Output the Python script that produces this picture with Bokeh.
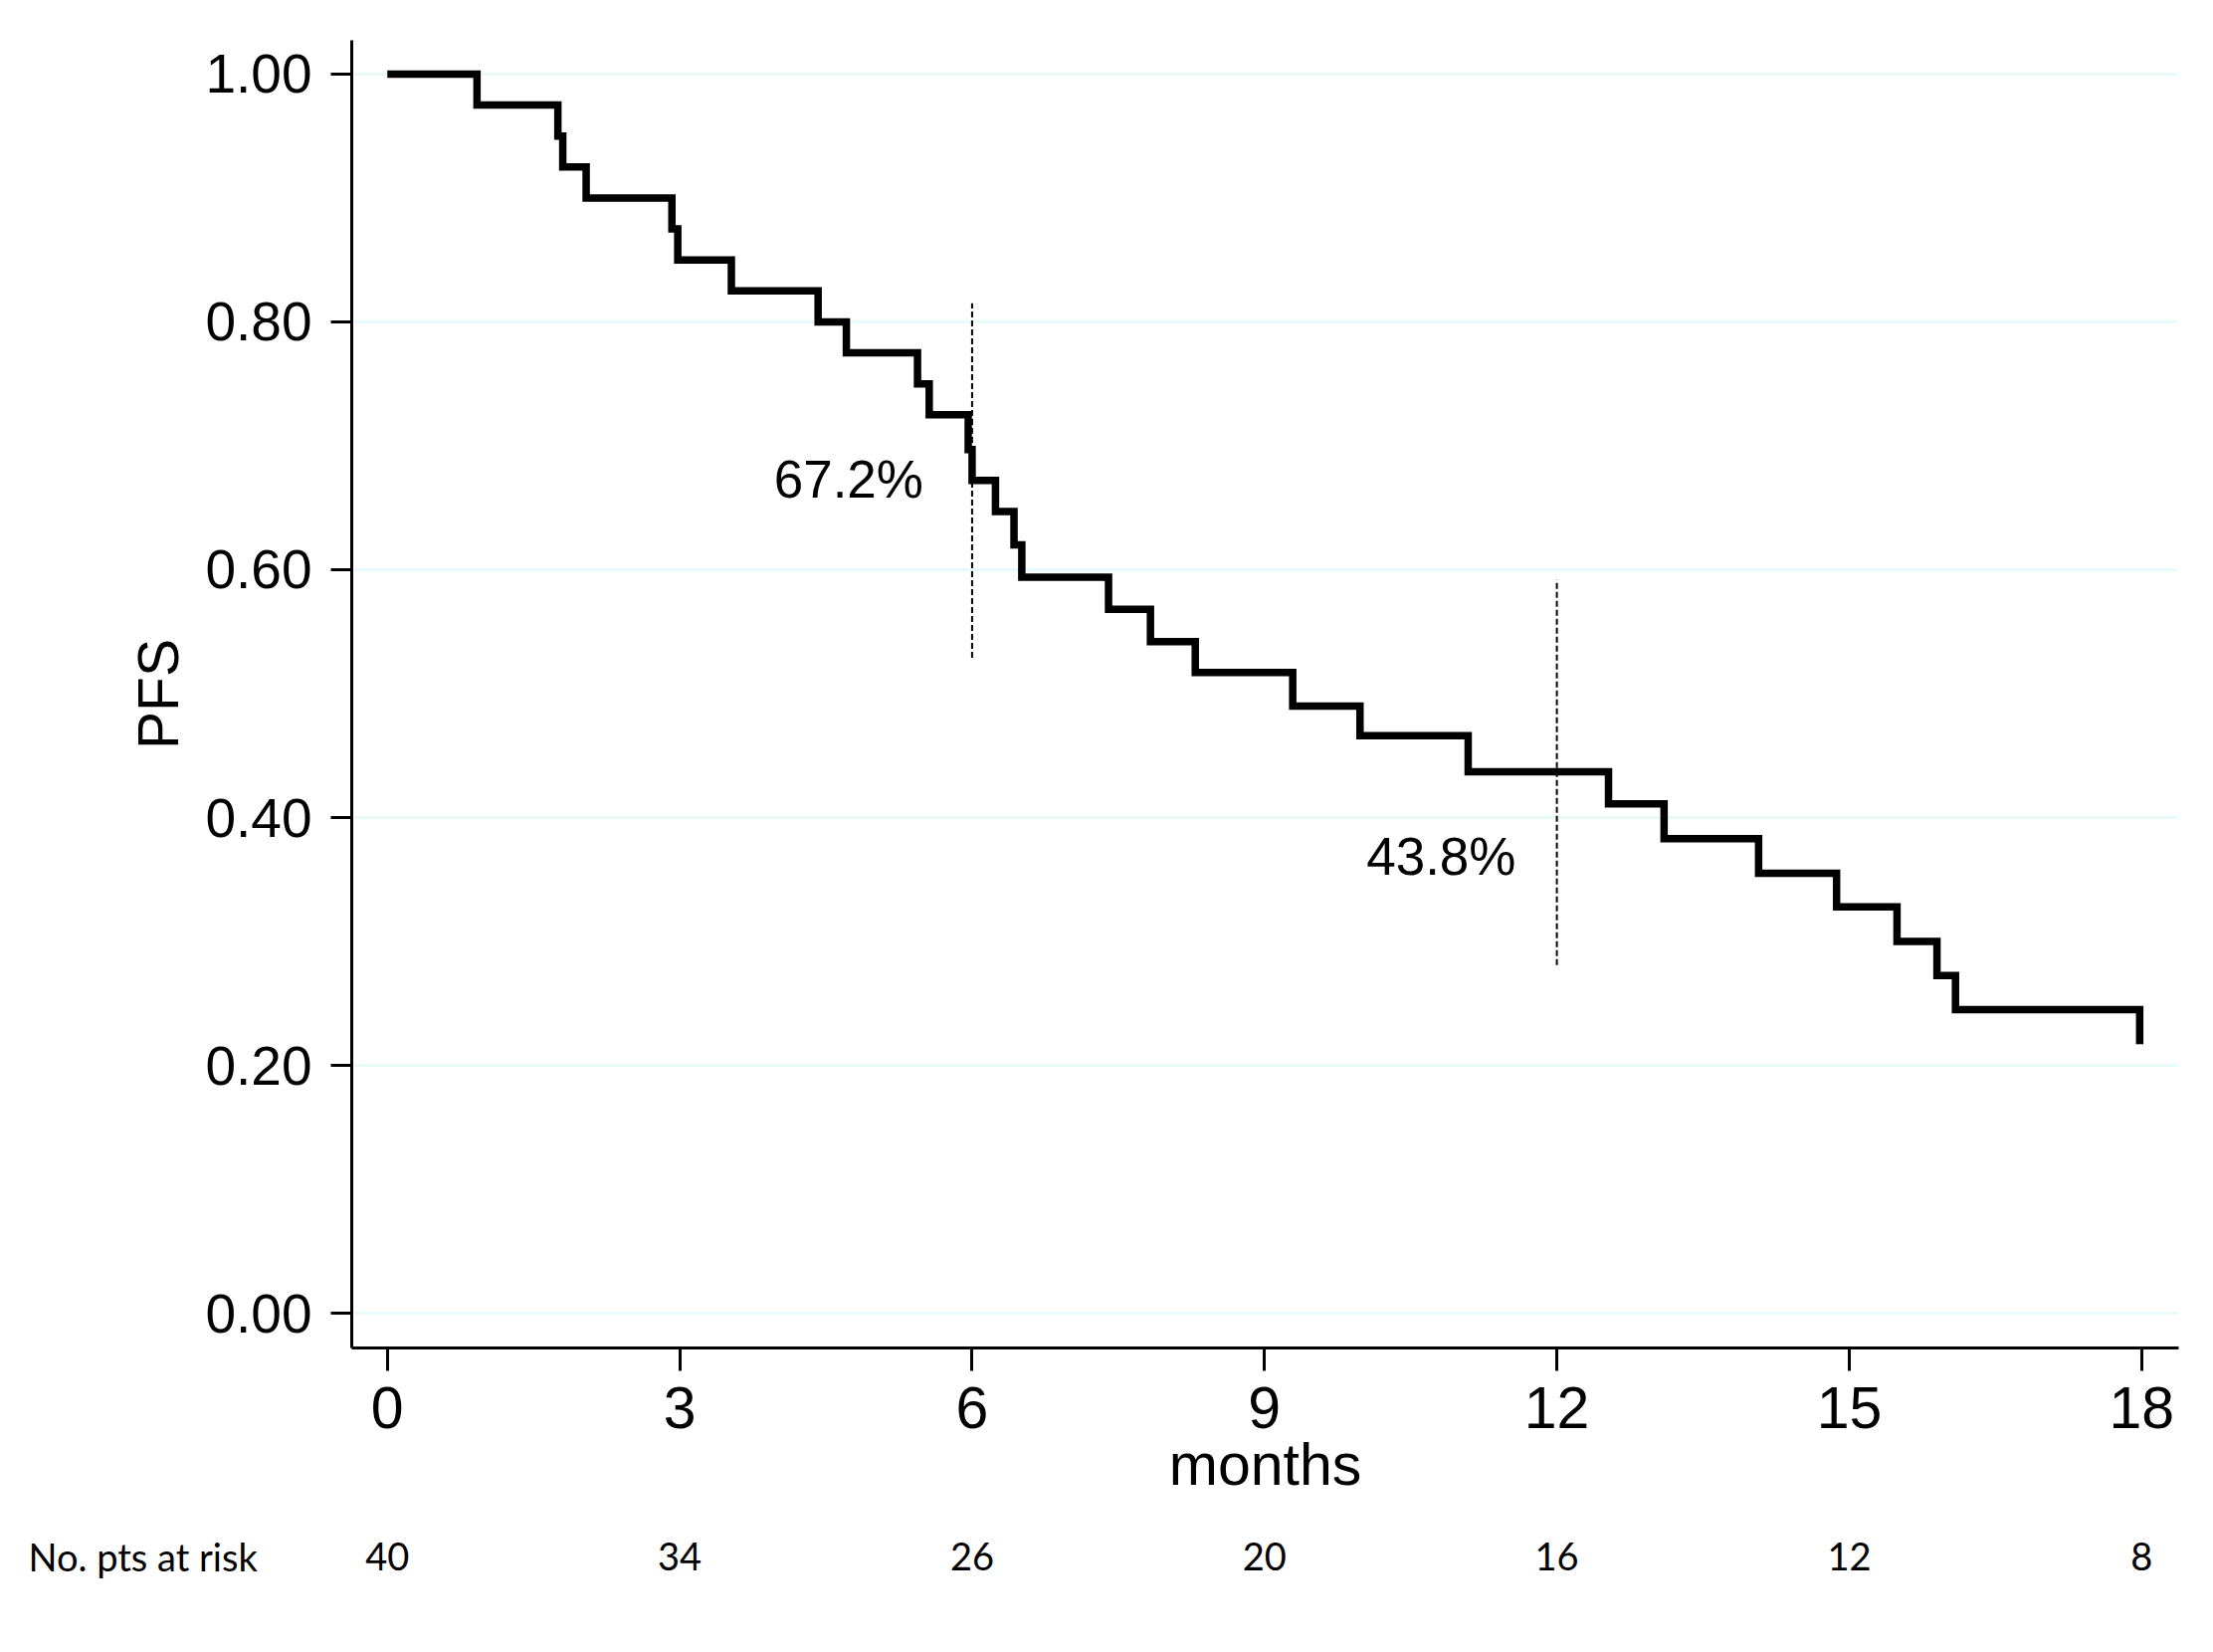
from bokeh.plotting import figure
from bokeh.layouts import column
from bokeh.models import Range1d, FixedTicker, NumeralTickFormatter
from bokeh.core.properties import value
from bokeh.embed import file_html
from bokeh.resources import INLINE

# ---- data ----
km_months = [0, 0.92, 1.75, 1.80, 2.04, 2.92, 2.98, 3.53, 4.42, 4.71, 5.44, 5.56,
             5.96, 6.00, 6.24, 6.43, 6.51, 7.40, 7.83, 8.29, 9.29, 9.98, 11.09,
             12.53, 13.10, 14.07, 14.87, 15.49, 15.90, 16.09, 17.98]
km_pfs = [1.00, 0.975, 0.95, 0.925, 0.90, 0.875, 0.85, 0.825, 0.80, 0.775, 0.75, 0.725,
          0.697, 0.672, 0.647, 0.62, 0.594, 0.568, 0.542, 0.517, 0.490, 0.466, 0.437,
          0.411, 0.383, 0.355, 0.328, 0.300, 0.2725, 0.245, 0.217]

marker_months = [6, 12]
marker_lo = [0.529, 0.281]
marker_hi = [0.815, 0.592]
marker_text = ["67.2%", "43.8%"]
marker_text_x = [5.50, 11.58]
marker_text_y = [0.673, 0.369]

x_ticks = [0, 3, 6, 9, 12, 15, 18]
y_ticks = [0.0, 0.2, 0.4, 0.6, 0.8, 1.0]
at_risk = [40, 34, 26, 20, 16, 12, 8]
risk_title = "No. pts at risk"

FONT = "Liberation Sans"
W = 2208
BL, BR = 353, 19
X0, X1 = -0.365, 18.38

p = figure(width=W, height=1520, output_backend="svg", toolbar_location=None,
           x_range=Range1d(X0, X1), y_range=Range1d(-0.0281, 1.0273),
           min_border_left=BL, min_border_right=BR, min_border_top=40, min_border_bottom=166)
p.outline_line_color = None

# grid
p.xgrid.grid_line_color = None
p.ygrid.grid_line_color = "#e8fbfb"
p.ygrid.grid_line_width = 3

# x axis
xa = p.xaxis[0]
xa.ticker = FixedTicker(ticks=x_ticks)
xa.minor_tick_line_color = None
xa.major_tick_out = 23
xa.major_tick_in = 0
xa.major_tick_line_width = 3
xa.axis_line_width = 3
xa.axis_line_color = "black"
xa.major_tick_line_color = "black"
xa.major_label_text_font = FONT
xa.major_label_text_font_size = "59px"
xa.major_label_text_color = "black"
xa.major_label_standoff = 16
xa.axis_label = "months"
xa.axis_label_text_font = FONT
xa.axis_label_text_font_size = "59px"
xa.axis_label_text_font_style = "normal"
xa.axis_label_text_color = "black"
xa.axis_label_standoff = 1

# y axis
ya = p.yaxis[0]
ya.ticker = FixedTicker(ticks=y_ticks)
ya.formatter = NumeralTickFormatter(format="0.00")
ya.minor_tick_line_color = None
ya.major_tick_out = 21
ya.major_tick_in = 0
ya.major_tick_line_width = 3
ya.axis_line_width = 3
ya.axis_line_color = "black"
ya.major_tick_line_color = "black"
ya.major_label_text_font = FONT
ya.major_label_text_font_size = "55px"
ya.major_label_text_color = "black"
ya.major_label_standoff = 19
ya.major_label_orientation = "horizontal"
ya.axis_label = "PFS"
ya.axis_label_text_font = FONT
ya.axis_label_text_font_size = "57px"
ya.axis_label_text_font_style = "normal"
ya.axis_label_text_color = "black"
ya.axis_label_standoff = 12

# KM curve
p.step(km_months, km_pfs, mode="after", line_color="black", line_width=7.5, line_join="miter")

# dashed markers at 6 and 12 months
p.segment(x0=marker_months, y0=marker_lo, x1=marker_months, y1=marker_hi,
          line_color="black", line_width=2, line_dash="6 3")
p.text(x=marker_text_x, y=marker_text_y, text=marker_text, text_align="right",
       text_baseline="middle", text_font=value(FONT), text_font_size="53px", text_color="black")

# ---- numbers-at-risk row: full-width frame, same pixels-per-month as the main frame ----
ppm = (W - BL - BR) / (X1 - X0)
r = figure(width=W, height=124, output_backend="svg", toolbar_location=None,
           x_range=Range1d(X0 - BL / ppm, X1 + BR / ppm), y_range=Range1d(0, 1),
           min_border_left=0, min_border_right=0, min_border_top=0, min_border_bottom=0)
try:
    r.frame_align = False
except Exception:
    pass
r.axis.visible = False
r.grid.visible = False
r.outline_line_color = None
r.text(x=x_ticks, y=[0.65] * len(x_ticks), text=[str(v) for v in at_risk],
       text_align="center", text_baseline="middle", text_font=value("Lato"),
       text_font_size="38px", text_color="black")
r.text(x=[X0 - (BL - 28) / ppm], y=[0.65], text=[risk_title], text_align="left",
       text_baseline="middle", text_font=value("Lato"), text_font_size="38px", text_color="black")

layout = column(p, r, spacing=0)
open("out.html", "w").write(file_html(layout, INLINE))
